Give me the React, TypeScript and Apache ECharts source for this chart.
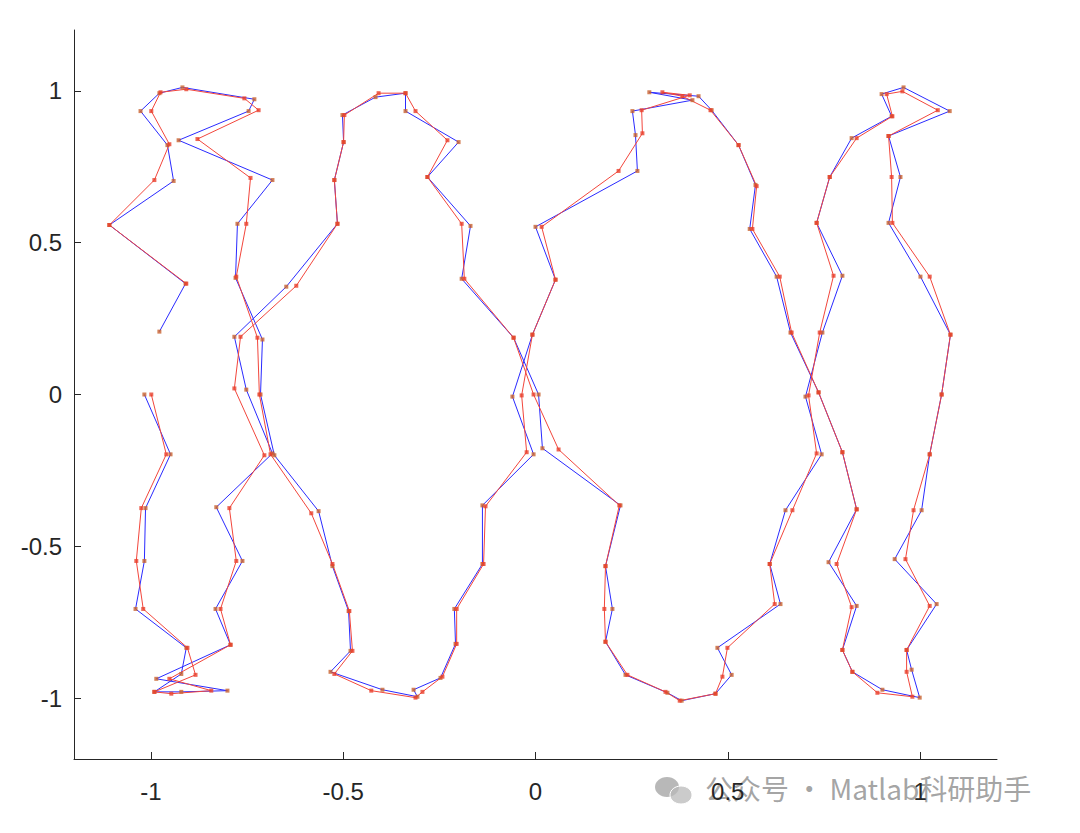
import React, { useEffect, useRef } from "react";
import * as echarts from "echarts";

const tickValues = [-1, -0.5, 0, 0.5, 1];

const blueX = [
  -0.978, -0.910, -1.108, -0.941, -0.957, -1.027, -0.978, -0.918, -0.731, -0.746,
  -0.928, -0.684, -0.775, -0.780, -0.710, -0.715, -0.679, -0.564, -0.528, -0.486,
  -0.481, -0.533, -0.398, -0.307, -0.317, -0.247, -0.208, -0.211, -0.138, -0.138,
  -0.005, -0.060, -0.008, 0.052, 0.000, 0.265, 0.260, 0.252, 0.408, 0.296,
  0.424, 0.458, 0.528, 0.572, 0.557, 0.627, 0.663, 0.736, 0.798, 0.835,
  0.762, 0.835, 0.798, 0.824, 0.902, 0.999, 0.978, 0.965, 1.043, 0.934,
  1.004, 1.025, 1.056, 1.079, 1.001, 0.918, 0.949, 0.918, 1.077, 0.957,
  0.900, 0.926, 0.822, 0.765, 0.731, 0.798, 0.746, 0.702, 0.744, 0.650,
  0.609, 0.637, 0.473, 0.510, 0.468, 0.380, 0.343, 0.234, 0.182, 0.200,
  0.182, 0.221, 0.018, 0.008, -0.057, -0.192, -0.169, -0.281, -0.200, -0.338,
  -0.338, -0.416, -0.502, -0.499, -0.523, -0.515, -0.648, -0.783, -0.752, -0.684,
  -0.830, -0.762, -0.832, -0.793, -0.986, -0.801, -0.921, -0.991, -0.921, -0.908,
  -1.040, -1.017, -1.014, -0.949, -1.017,
];
const blueY = [
  0.207, 0.365, 0.558, 0.703, 0.821, 0.933, 0.992, 1.011, 0.972, 0.933,
  0.837, 0.706, 0.562, 0.384, 0.181, 0.0, -0.200, -0.384, -0.565, -0.713,
  -0.844, -0.913, -0.972, -0.995, -0.972, -0.933, -0.821, -0.706, -0.558, -0.365,
  -0.197, -0.007, 0.197, 0.378, 0.552, 0.736, 0.854, 0.933, 0.969, 0.995,
  0.982, 0.936, 0.821, 0.690, 0.545, 0.388, 0.204, 0.007, -0.190, -0.378,
  -0.552, -0.696, -0.841, -0.913, -0.972, -0.998, -0.906, -0.841, -0.690, -0.542,
  -0.381, -0.197, 0.0, 0.197, 0.388, 0.565, 0.716, 0.851, 0.933, 1.011,
  0.989, 0.916, 0.844, 0.716, 0.565, 0.391, 0.204, -0.007, -0.197, -0.381,
  -0.558, -0.690, -0.834, -0.923, -0.985, -1.008, -0.982, -0.923, -0.814, -0.706,
  -0.565, -0.365, -0.177, 0.0, 0.187, 0.381, 0.555, 0.716, 0.831, 0.933,
  0.992, 0.979, 0.920, 0.831, 0.706, 0.562, 0.355, 0.190, 0.016, -0.194,
  -0.371, -0.548, -0.706, -0.824, -0.936, -0.975, -0.979, -0.979, -0.920, -0.834,
  -0.706, -0.548, -0.374, -0.197, 0.0,
];

const redX = [
  -0.908, -1.108, -0.991, -0.952, -0.999, -0.975, -0.908, -0.757, -0.720,
  -0.879, -0.741, -0.752, -0.778, -0.723, -0.718, -0.689, -0.583, -0.528, -0.484,
  -0.476, -0.523, -0.427, -0.312, -0.294, -0.242, -0.205, -0.205, -0.135, -0.130,
  -0.023, -0.036, -0.008, 0.052, 0.016, 0.216, 0.278, 0.276, 0.401, 0.330,
  0.382, 0.455, 0.528, 0.575, 0.564, 0.635, 0.666, 0.736, 0.798, 0.835,
  0.783, 0.822, 0.798, 0.824, 0.889, 0.980, 0.965, 0.965, 1.025, 0.962,
  0.983, 1.025, 1.056, 1.079, 1.025, 0.928, 0.926, 0.918, 1.046, 0.954,
  0.913, 0.928, 0.835, 0.765, 0.731, 0.775, 0.739, 0.710, 0.731, 0.668,
  0.609, 0.622, 0.499, 0.486, 0.468, 0.375, 0.338, 0.239, 0.182, 0.179,
  0.182, 0.218, 0.060, -0.005, -0.057, -0.185, -0.192, -0.281, -0.229, -0.312,
  -0.338, -0.408, -0.497, -0.499, -0.523, -0.515, -0.622, -0.767, -0.783, -0.705,
  -0.796, -0.778, -0.819, -0.793, -0.952, -0.843, -0.947, -0.991, -0.884, -0.905,
  -1.020, -1.038, -1.025, -0.960, -0.999,
];
const redY = [
  0.365, 0.558, 0.706, 0.824, 0.933, 0.995, 1.005, 0.975, 0.936,
  0.841, 0.713, 0.562, 0.388, 0.187, 0.0, -0.197, -0.391, -0.558, -0.713,
  -0.844, -0.920, -0.975, -0.998, -0.979, -0.929, -0.821, -0.706, -0.558, -0.368,
  -0.190, -0.003, 0.197, 0.378, 0.552, 0.736, 0.860, 0.936, 0.985, 0.995,
  0.982, 0.936, 0.821, 0.686, 0.545, 0.388, 0.204, 0.007, -0.190, -0.378,
  -0.558, -0.700, -0.841, -0.913, -0.982, -0.995, -0.913, -0.841, -0.696, -0.542,
  -0.381, -0.197, 0.0, 0.197, 0.388, 0.565, 0.716, 0.851, 0.936, 0.998,
  0.989, 0.916, 0.844, 0.716, 0.565, 0.391, 0.204, -0.003, -0.194, -0.381,
  -0.558, -0.690, -0.834, -0.929, -0.985, -1.008, -0.979, -0.923, -0.814, -0.706,
  -0.565, -0.365, -0.181, 0.0, 0.187, 0.381, 0.562, 0.716, 0.837, 0.933,
  0.992, 0.992, 0.920, 0.831, 0.706, 0.562, 0.358, 0.190, 0.020, -0.200,
  -0.374, -0.548, -0.706, -0.824, -0.936, -0.975, -0.985, -0.979, -0.923, -0.834,
  -0.706, -0.548, -0.374, -0.197, 0.0,
];

const zip = (xs: number[], ys: number[]) => xs.map((x, i) => [x, ys[i]]);

export default function App() {
  const ref = useRef<HTMLDivElement>(null);
  useEffect(() => {
    if (!ref.current) return;
    const chart = echarts.init(ref.current, undefined, { renderer: "svg" });
    const blue = zip(blueX, blueY);
    const red = zip(redX, redY);
    const axisCommon = {
      type: "value" as const,
      min: -1.2,
      max: 1.2,
      axisLine: { show: true, onZero: false, lineStyle: { color: "#262626", width: 1 } },
      axisTick: {
        show: true,
        inside: true,
        length: 7,
        customValues: tickValues,
        lineStyle: { color: "#262626" },
      },
      axisLabel: {
        customValues: tickValues,
        color: "#262626",
        fontSize: 24,
        fontFamily: "Liberation Sans, Arial, sans-serif",
        formatter: (v: number) => String(v),
      },
      splitLine: { show: false },
    };
    chart.setOption({
      animation: false,
      backgroundColor: "#ffffff",
      grid: { left: 74, top: 30, width: 923, height: 729 },
      xAxis: { ...axisCommon, axisLabel: { ...axisCommon.axisLabel, margin: 20 } },
      yAxis: { ...axisCommon, axisLabel: { ...axisCommon.axisLabel, margin: 12 } },
      series: [
        {
          type: "line",
          data: blue,
          showSymbol: false,
          lineStyle: { color: "#2a2aff", width: 1 },
          z: 2,
        },
        {
          type: "line",
          data: red,
          showSymbol: false,
          lineStyle: { color: "#f2463c", width: 1 },
          z: 3,
        },
        {
          type: "scatter",
          data: blue,
          symbol: "rect",
          symbolSize: 4,
          itemStyle: { color: "#c8622e" },
          z: 4,
        },
        {
          type: "scatter",
          data: red,
          symbol: "rect",
          symbolSize: 4,
          itemStyle: { color: "#e8402c" },
          z: 5,
        },
      ],
      graphic: [
        {
          type: "group",
          left: 655,
          top: 777,
          children: [
            { type: "ellipse", shape: { cx: 13, cy: 12, rx: 12, ry: 10 }, style: { fill: "rgba(160,160,160,0.75)" } },
            { type: "ellipse", shape: { cx: 27, cy: 20, rx: 11, ry: 9 }, style: { fill: "rgba(185,185,185,0.75)", stroke: "#fff", lineWidth: 1 } },
          ],
        },
        {
          type: "text",
          left: 705,
          top: 774,
          style: {
            text: "公众号 · Matlab科研助手",
            fill: "rgba(140,140,140,0.8)",
            font: '28px "Noto Sans CJK SC", sans-serif',
          },
        },
      ],
    });
    return () => chart.dispose();
  }, []);
  return (
    <div
      ref={ref}
      style={{ position: "absolute", left: 0, top: 0, width: 1080, height: 833 }}
    />
  );
}
